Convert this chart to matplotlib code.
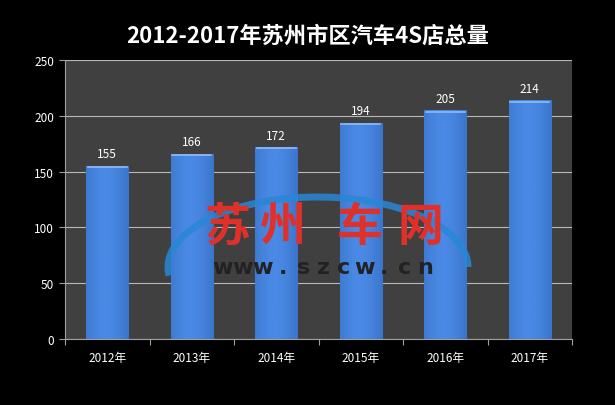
import matplotlib
matplotlib.use("Agg")
from matplotlib import pyplot as plt
from matplotlib.patches import Arc
import numpy as np

plt.rcParams['font.family'] = ['Noto Sans CJK SC', 'DejaVu Sans']

years = ['2012年', '2013年', '2014年', '2015年', '2016年', '2017年']
counts = [155, 166, 172, 194, 205, 214]
y_ticks = [0, 50, 100, 150, 200, 250]
title = '2012-2017年苏州市区汽车4S店总量'
mark_cn = '苏州车网'
mark_url = 'www.szcw.cn'

fig = plt.figure(figsize=(6.15, 4.06), dpi=100, facecolor='black')
ax = fig.add_axes([0.1057, 0.1626, 0.8244, 0.687])
ax.set_facecolor('#404040')

x = np.arange(len(years))
bars = ax.bar(x, counts, width=0.5, color='#3b78d4', edgecolor='#2a5aa8',
              linewidth=0.8, zorder=3)

# shading: darker edges, light top cap
cmap = matplotlib.colors.LinearSegmentedColormap.from_list(
    'b', ['#1f4f9a', '#4a8ae6'])
for b in bars:
    bx, bw, bh = b.get_x(), b.get_width(), b.get_height()
    grad = np.linspace(0, 1, 64)
    shade = 1 - 0.35 * np.abs(grad - 0.45) ** 1.5
    img = np.outer(np.ones(2), shade)
    im = ax.imshow(img, extent=[bx, bx + bw, 0, bh], aspect='auto',
                   cmap=cmap, vmin=0.6, vmax=1, zorder=3.5)
    im.set_clip_path(b)
    ax.plot([bx + 0.02, bx + bw - 0.02], [bh - 1.2, bh - 1.2],
            color='#8fbaf5', lw=1.2, zorder=4)
    ax.text(bx + bw / 2, bh + 5, str(bh), ha='center', va='bottom',
            color='white', fontsize=8.5, zorder=5)

ax.set_xlim(-0.5, len(years) - 0.5)
ax.set_ylim(0, 250)
ax.set_yticks(y_ticks)
ax.set_xticks(np.arange(len(years) + 1) - 0.5, minor=False)
ax.set_xticklabels([''] * (len(years) + 1))
ax.set_xticks(x, minor=True)
ax.set_xticklabels(years, minor=True)
ax.tick_params(axis='x', which='minor', length=0, pad=9, colors='white',
               labelsize=8.5)
ax.tick_params(axis='x', which='major', length=4, color='#a0a0a0')
ax.tick_params(axis='y', length=4, color='#a0a0a0', colors='white',
               labelsize=8.5, pad=4)
ax.yaxis.grid(True, color='#b8b8b8', lw=0.8, zorder=1)
ax.set_axisbelow(True)
for s in ['top', 'right']:
    ax.spines[s].set_visible(False)
ax.spines['left'].set_color('#a0a0a0')
ax.spines['bottom'].set_color('#a0a0a0')

fig.text(0.5, 0.91, title, ha='center', va='center', color='white',
         fontsize=16, fontweight='bold')

# watermark logo
arc = Arc((318 / 615, 1 - 268 / 406), 300 / 615, 140 / 406, theta1=0,
          theta2=185, transform=fig.transFigure, color='#2a86d6', lw=5,
          alpha=0.85, zorder=9)
fig.add_artist(arc)
cn_x = [228, 282, 360, 420]
for ch, px in zip(mark_cn, cn_x):
    fig.text(px / 615, 1 - 228 / 406, ch, ha='center', va='center',
             color='#e0302a', fontsize=33, fontweight='bold', zorder=10)
for i, ch in enumerate(mark_url):
    px = 222 + i * 20.3
    fig.text(px / 615, 1 - 268 / 406, ch, ha='center', va='center',
             color='#222222', fontsize=16, fontweight='bold', zorder=10,
             family='DejaVu Sans')

plt.savefig('out.png', dpi=100, facecolor='black')
plt.close()
